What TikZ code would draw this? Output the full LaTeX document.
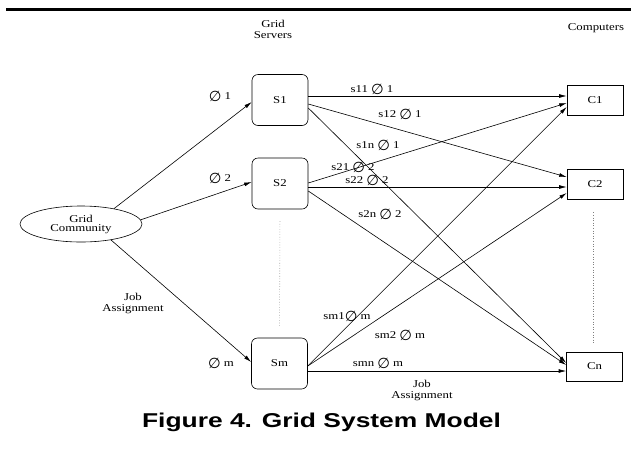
\documentclass[tikz,border=0pt]{standalone}
\usepackage{fontspec}
\setmainfont{Liberation Serif}[FakeStretch=1.22]
\newfontfamily\capfont{Liberation Sans}[FakeStretch=1.32]
\newfontfamily\symfont{DejaVu Sans}
\usetikzlibrary{arrows.meta,shapes.geometric}
% slashed-zero symbol used in the edge weights
\newcommand\ph{\raisebox{-1.5pt}{\symfont\fontsize{14.5}{14}\selectfont ∅}}
\tikzset{
  lbl/.style={font=\fontsize{10.5}{11}\selectfont, align=center, inner sep=0pt},
  server/.style={draw, line width=0.6pt, rounded corners=6pt, minimum width=56pt,
    minimum height=51pt, inner sep=0pt, font=\fontsize{10.5}{12}\selectfont},
  comp/.style={draw, line width=0.6pt, minimum width=56pt, minimum height=30pt,
    inner sep=0pt, font=\fontsize{10.5}{12}\selectfont},
  link/.style={-{Latex[length=7.5pt,width=3.8pt]}, line width=0.6pt},
  dots/.style={dotted, line width=0.6pt, gray},
}
\begin{document}
\begin{tikzpicture}[x=1pt,y=-1pt]
\useasboundingbox (0,0) rectangle (631,459);
% rule above the figure
\draw[line width=3pt] (6,9.5) -- (631,9.5);

% column headings
\node[lbl] (hserv) at (273,29) {Grid\\Servers};
\node[lbl] (hcomp) at (596,28) {Computers};

% community, servers, computers
\node[draw, ellipse, line width=0.6pt, minimum width=122pt, minimum height=36pt,
  inner sep=0pt, align=center, font=\fontsize{10.5}{9}\selectfont] (GC) at (81,224)
  {Grid\\Community};
\node[server] (S1) at (280,100) {S1};
\node[server] (S2) at (280,183.5) {S2};
\node[server] (Sm) at (279.5,363.5) {Sm};
\node[comp] (C1) at (595,100) {C1};
\node[comp] (C2) at (595,184) {C2};
\node[comp, minimum height=29pt] (Cn) at (594.5,366.5) {Cn};

% elided servers and computers
\draw[dots, shorten <=12pt, shorten >=11pt] (S2.south) -- (Sm.north);
\draw[dots, shorten <=13pt, shorten >=9pt] ([xshift=-2pt]C2.south) -- ([xshift=-1.5pt]Cn.north);

% job assignment from the community to the servers
\draw[link] (GC.25) -- ([yshift=-2pt]S1.west);
\draw[link] (GC.4) -- ([yshift=1.5pt]S2.west);
\draw[link] (GC.-28) -- ([yshift=1.5pt]Sm.west);
\node[lbl] (phi1) at (220,96) {\ph\ 1};
\node[lbl] (phi2) at (220,178) {\ph\ 2};
\node[lbl] (phim) at (221,363) {\ph\ m};
\node[lbl] (jobA) at (133,303) {Job\\Assignment};

% servers to computers
\draw[link] ([yshift=4pt]S1.east) -- ([yshift=4pt]C1.west);
\draw[link] ([yshift=-4pt]S1.east) -- ([yshift=7pt]C2.west);
\draw[link] ([yshift=-8pt]S1.east) -- ([yshift=3.5pt]Cn.west);
\draw[link] ([yshift=0.5pt]S2.east) -- ([yshift=-3pt]C1.west);
\draw[link] ([yshift=-3.5pt]S2.east) -- ([yshift=-3pt]C2.west);
\draw[link] ([yshift=-7.5pt]S2.east) -- ([yshift=1.5pt]Cn.west);
\draw[link] ([yshift=-2.5pt]Sm.east) -- ([yshift=-7pt]C1.west);
\draw[link] ([yshift=-2.5pt]Sm.east) -- ([yshift=-9pt]C2.west);
\draw[link] ([yshift=-7.5pt]Sm.east) -- ([yshift=-4.5pt]Cn.west);

\node[lbl] (w11) at (372,89) {s11 \ph\ 1};
\node[lbl] (w12) at (400,114) {s12 \ph\ 1};
\node[lbl] (w1n) at (378,145) {s1n \ph\ 1};
\node[lbl] (w21) at (353,167) {s21 \ph\ 2};
\node[lbl] (w22) at (367,180) {s22 \ph\ 2};
\node[lbl] (w2n) at (380,214) {s2n \ph\ 2};
\node[lbl] (wm1) at (347,316) {sm1\ph\ m};
\node[lbl] (wm2) at (400,335) {sm2 \ph\ m};
\node[lbl] (wmn) at (378,363) {smn \ph\ m};
\node[lbl] (jobB) at (422,390) {Job\\Assignment};

% caption
\node[anchor=base, inner sep=0pt, font=\capfont\bfseries\fontsize{20}{20}\selectfont]
  (cap) at (321.5,427) {Figure 4. Grid System Model};
\end{tikzpicture}
\end{document}
